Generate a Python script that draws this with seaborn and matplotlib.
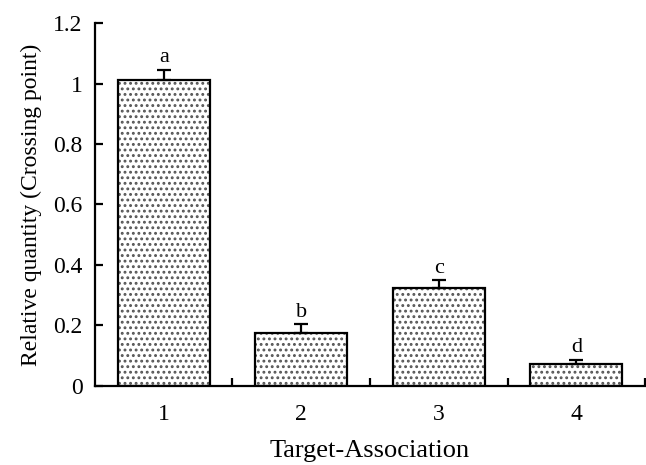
import matplotlib
matplotlib.use("Agg")
import matplotlib.pyplot as plt
import seaborn as sns
import pandas as pd
import numpy as np

categories = ["1", "2", "3", "4"]
values = [1.01, 0.175, 0.323, 0.073]
errors = [0.035, 0.030, 0.027, 0.014]
letters = ["a", "b", "c", "d"]
yticks = [0, 0.2, 0.4, 0.6, 0.8, 1.0, 1.2]
ytick_labels = ["0", "0.2", "0.4", "0.6", "0.8", "1", "1.2"]

sns.set_style("ticks")
plt.rcParams["font.family"] = ["Liberation Serif", "DejaVu Serif"]
plt.rcParams["hatch.linewidth"] = 1.3
plt.rcParams["hatch.color"] = "#555555"
for k in ["text.color", "axes.labelcolor", "xtick.color", "ytick.color", "axes.edgecolor"]:
    plt.rcParams[k] = "black"

df = pd.DataFrame({"cat": categories, "val": values})

fig = plt.figure(figsize=(6.46, 4.65), dpi=100)
ax = fig.add_axes([0.147, 0.170, 0.8515, 0.7805])

# hatched fill
sns.barplot(data=df, x="cat", y="val", ax=ax, color="white", width=0.67,
            edgecolor="#555555", linewidth=0, errorbar=None, hatch="...")
# outlines
sns.barplot(data=df, x="cat", y="val", ax=ax, fill=False, width=0.67,
            edgecolor="black", linewidth=1.6, errorbar=None)

x = np.arange(len(categories))
ax.errorbar(x, values, yerr=[np.zeros(len(errors)), errors], fmt="none",
            ecolor="black", elinewidth=1.6, capsize=4.7, capthick=1.6)
for xi, v, e, l in zip(x, values, errors, letters):
    ax.text(xi, v + e + 0.008, l, ha="center", va="bottom", fontsize=16, color="black")

ax.set_xlim(-0.5, 3.5)
ax.set_ylim(0, 1.2)
ax.set_yticks(yticks)
ax.set_yticklabels(ytick_labels)
ax.set_xticks(x)
ax.set_xticklabels(categories)
ax.tick_params(axis="x", length=0, pad=13, labelsize=17, colors="black")
ax.set_xticks([0.5, 1.5, 2.5, 3.5], minor=True)
ax.tick_params(axis="x", which="minor", direction="in", length=6, width=1.6, colors="black")
ax.tick_params(axis="y", direction="in", length=6, width=1.6, labelsize=17, pad=9, colors="black")
for s in ["top", "right"]:
    ax.spines[s].set_visible(False)
for s in ["left", "bottom"]:
    ax.spines[s].set_linewidth(1.6)
    ax.spines[s].set_color("black")

ax.set_xlabel("Target-Association", fontsize=19, labelpad=11, color="black")
ax.set_ylabel("Relative quantity (Crossing point)", fontsize=17, labelpad=8, color="black")

fig.savefig("out.png", dpi=100)
